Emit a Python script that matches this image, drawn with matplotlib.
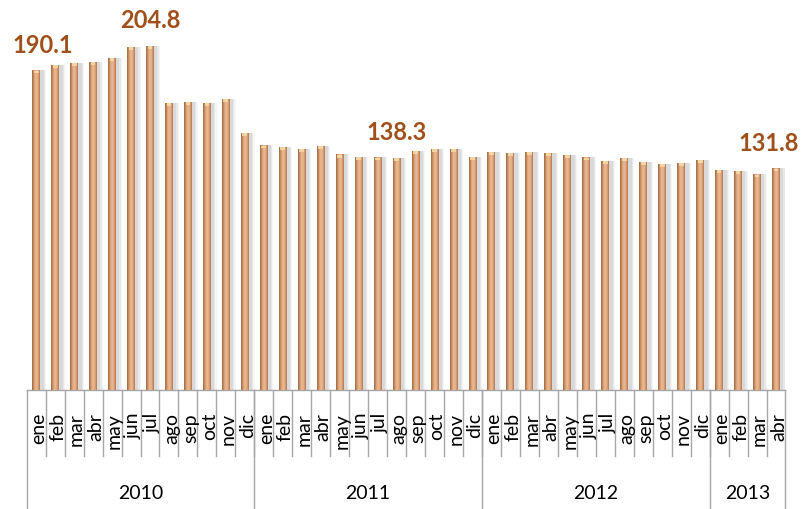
import matplotlib
matplotlib.use("Agg")
import matplotlib.pyplot as plt
import numpy as np
from matplotlib.colors import LinearSegmentedColormap
from matplotlib.lines import Line2D
import matplotlib.transforms as mtransforms

plt.rcParams['font.family'] = ['Lato', 'DejaVu Sans']

months = ["ene", "feb", "mar", "abr", "may", "jun", "jul", "ago", "sep", "oct", "nov", "dic"]
years = ["2010", "2011", "2012", "2013"]
months_per_year = [12, 12, 12, 4]

values = [
    190.1, 193.5, 194.7, 195.2, 197.6, 204.2, 204.8, 171.0, 171.6, 170.9, 173.4, 152.8,   # 2010
    145.6, 144.7, 143.5, 145.3, 140.1, 138.7, 138.5, 138.3, 142.1, 143.5, 143.5, 138.7,   # 2011
    141.7, 141.0, 141.7, 141.1, 139.9, 138.5, 136.4, 138.3, 135.9, 134.7, 135.2, 137.1,   # 2012
    131.0, 130.4, 128.4, 131.8,                                                         # 2013
]
labeled = {0: "190.1", 6: "204.8", 19: "138.3", 39: "131.8"}

W, H = 802, 510
fig = plt.figure(figsize=(W / 100, H / 100), dpi=100)
base_px = 391
left_px, right_px = 26.7, 785.5
ax = fig.add_axes([left_px / W, (H - base_px) / H, (right_px - left_px) / W, base_px / H])

n = len(values)
x = np.arange(n)
bw = 0.42
ymax = base_px * 0.5949

# soft shadow
for off, a in [(0.30, 0.08), (0.24, 0.12), (0.18, 0.16)]:
    ax.bar(x + off, values, bw, color="#8c8c8c", alpha=a, zorder=1, linewidth=0)

bars = ax.bar(x, values, bw, color="#DDA57C", zorder=2, linewidth=0)

cmap = LinearSegmentedColormap.from_list(
    "cyl", ["#9A6641", "#C98F64", "#E6B08A", "#EBB993", "#D99F76", "#B07650"])
grad = np.linspace(0, 1, 64).reshape(1, -1)
for b in bars:
    x0, w, h = b.get_x(), b.get_width(), b.get_height()
    im = ax.imshow(grad, cmap=cmap, extent=[x0, x0 + w, 0, h], aspect="auto",
                   zorder=3, interpolation="bilinear")
    im.set_clip_path(b)

# top highlight cap
ax.bar(x, [1.6] * n, bw * 0.6, bottom=np.array(values) - 1.8, color="#F6DCA8",
       alpha=0.85, zorder=4, linewidth=0)

ax.set_xlim(-0.5, n - 0.5)
ax.set_ylim(0, ymax)
ax.axis("off")

for i, t in labeled.items():
    xi = i
    if i == 0:
        xi = i + 0.35
    if i == n - 1:
        xi = i - 0.4
    ax.text(xi, values[i] + 8.5, t, ha="center", va="bottom", fontsize=17,
            fontweight="bold", color="#A0501A", zorder=5)

trans = mtransforms.blended_transform_factory(ax.transData, ax.transAxes)
def yfrac(py):
    return (base_px - py) / base_px

line_kw = dict(color="#A6A6A6", linewidth=1.0, transform=trans, clip_on=False)
# baseline
ax.add_line(Line2D([-0.5, n - 0.5], [0, 0], **line_kw))
# month separators
for i in range(1, n):
    ax.add_line(Line2D([i - 0.5, i - 0.5], [0, yfrac(457)], **line_kw))
# year separators
bounds = np.concatenate([[0], np.cumsum(months_per_year)])
for bnd in bounds:
    ax.add_line(Line2D([bnd - 0.5, bnd - 0.5], [0, yfrac(H)], **line_kw))

# month labels
labels = []
for cnt in months_per_year:
    labels += months[:cnt]
for i, lab in enumerate(labels):
    ax.text(i + 0.05, yfrac(413), lab, rotation=90, rotation_mode="anchor",
            ha="right", va="center_baseline", fontsize=14, color="black",
            transform=trans)

# year labels
for k, yr in enumerate(years):
    c = (bounds[k] + bounds[k + 1] - 1) / 2
    ax.text(c, yfrac(494), yr, ha="center", va="center", fontsize=14,
            color="black", transform=trans)

fig.savefig("out.png", dpi=100)
